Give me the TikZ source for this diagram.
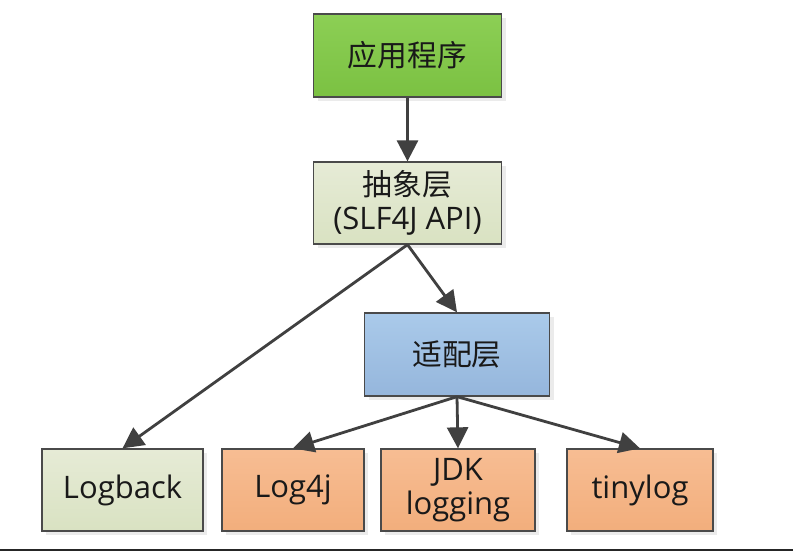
\documentclass[tikz,border=0pt]{standalone}
\usepackage{fontspec}
\setmainfont{Open Sans}
\newfontfamily\cjk{Noto Sans CJK SC}[Scale=0.96]
\usetikzlibrary{arrows.meta,shadows}
\definecolor{appgreenT}{HTML}{8CCF55}
\definecolor{appgreenB}{HTML}{7BC142}
\definecolor{beigeT}{HTML}{E6EBD6}
\definecolor{beigeB}{HTML}{D9E2C2}
\definecolor{blueT}{HTML}{AACAEA}
\definecolor{blueB}{HTML}{95B6DC}
\definecolor{orangeT}{HTML}{F7BD93}
\definecolor{orangeB}{HTML}{F2AE7C}
\definecolor{edgegray}{HTML}{4A4A4A}
\definecolor{arrowgray}{HTML}{404040}
\tikzset{
  x=1pt,y=-1pt,
  box/.style={draw=edgegray,line width=1.3pt,rectangle,align=center,
    inner sep=0pt,font=\fontsize{31}{34}\selectfont,text=black!90,
    drop shadow={shadow xshift=4pt,shadow yshift=-4pt,fill=black!8,opacity=1}},
  greenbox/.style={box,top color=appgreenT,bottom color=appgreenB},
  beigebox/.style={box,top color=beigeT,bottom color=beigeB},
  bluebox/.style={box,top color=blueT,bottom color=blueB},
  orangebox/.style={box,top color=orangeT,bottom color=orangeB},
  conn/.style={draw=arrowgray,line width=2.8pt,
    -{Triangle[length=21pt,width=21pt]}},
}
\begin{document}
\begin{tikzpicture}
\useasboundingbox (0,0) rectangle (793,551);
\fill[white] (0,0) rectangle (793,551);
\fill[black!85] (0,548.5) rectangle (793,551);
\node[greenbox,minimum width=188pt,minimum height=83pt] (app) at (407.5,55.5) {\cjk 应用程序};
\node[beigebox,minimum width=188pt,minimum height=82pt] (api) at (407.5,203) {{\cjk 抽象层}\\(SLF4J API)};
\node[bluebox,minimum width=185pt,minimum height=83pt] (adp) at (457,354.5) {\cjk 适配层};
\node[beigebox,minimum width=161pt,minimum height=82pt] (lb) at (122.5,490) {Logback};
\node[orangebox,minimum width=142pt,minimum height=82pt] (l4j) at (293,490) {Log4j};
\node[orangebox,minimum width=154pt,minimum height=82pt] (jdk) at (458,490) {JDK\\logging};
\node[orangebox,minimum width=146pt,minimum height=82pt] (tiny) at (640,490) {tinylog};
\draw[conn] (app.south) -- (api.north);
\draw[conn] (api.south) -- (adp.north);
\draw[conn] (api.south) -- (lb.north);
\draw[conn] (adp.south) -- (l4j.north);
\draw[conn] (adp.south) -- (jdk.north);
\draw[conn] (adp.south) -- (tiny.north);
\end{tikzpicture}
\end{document}
